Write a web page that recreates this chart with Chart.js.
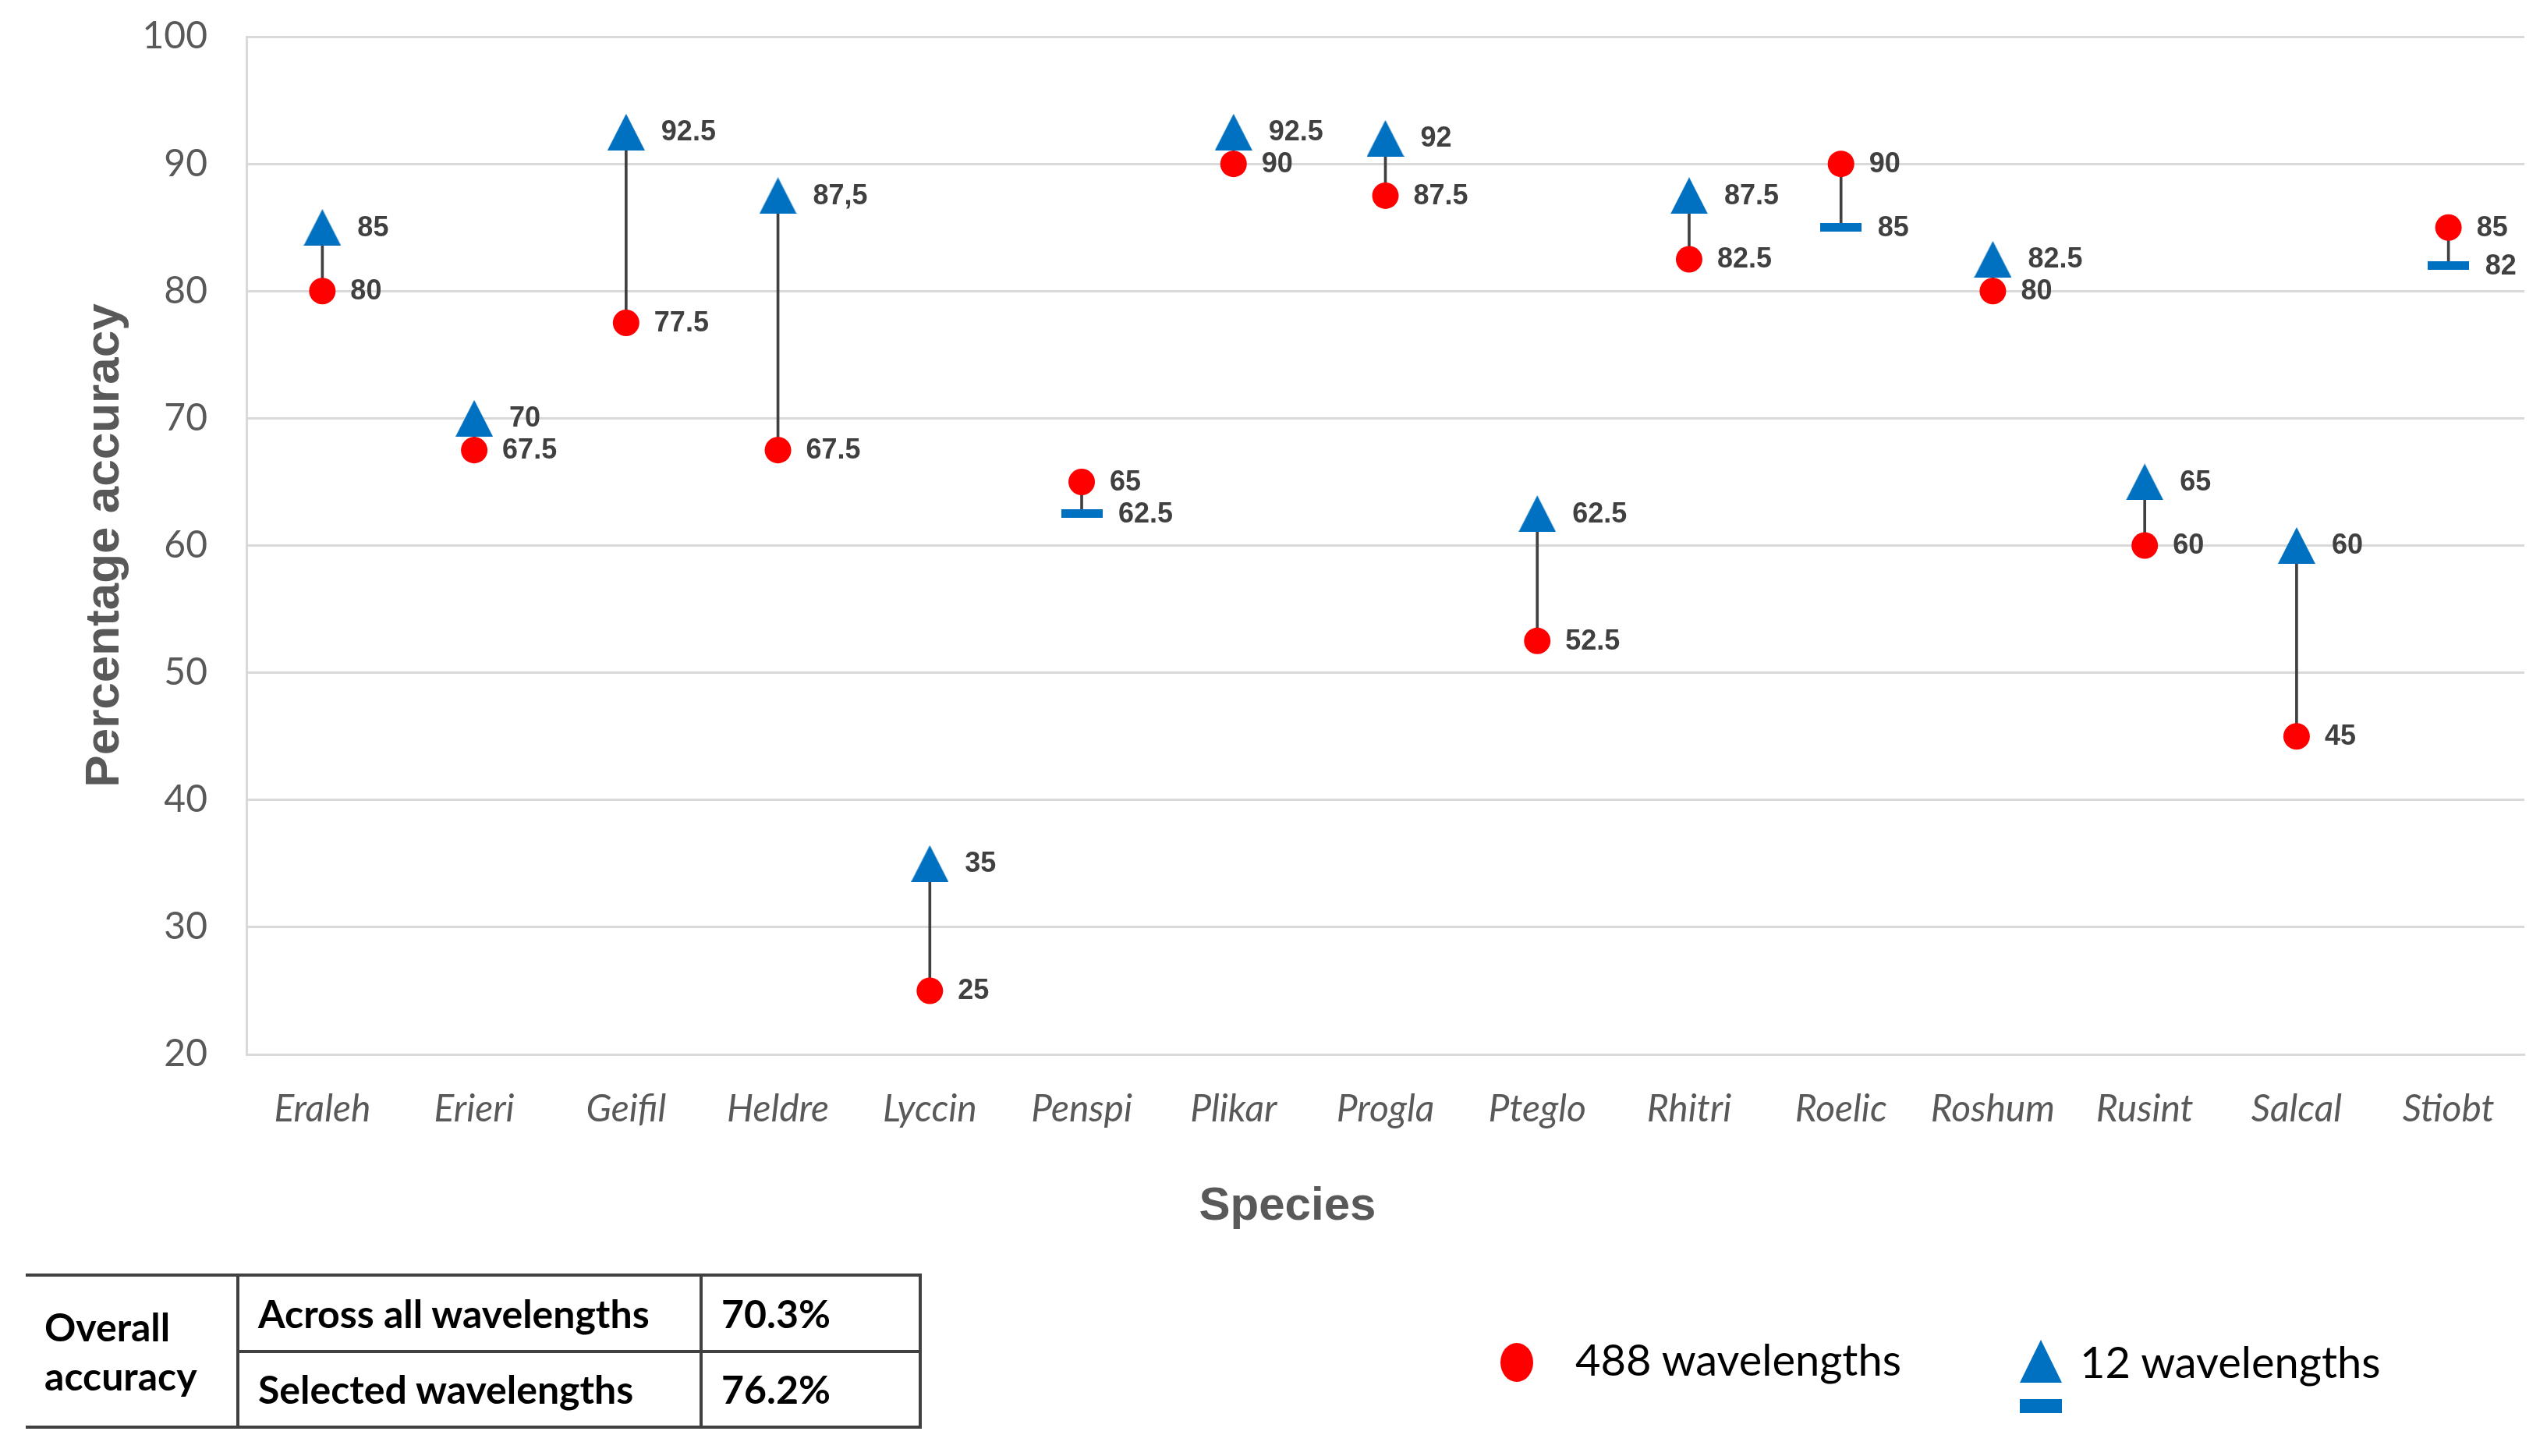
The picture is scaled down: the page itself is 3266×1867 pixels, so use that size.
<!DOCTYPE html>
<html lang="en">
<head>
  <meta charset="UTF-8">
  <title>Percentage accuracy by species</title>
  <script src="https://cdn.jsdelivr.net/npm/chart.js"></script>
  <style>
    html, body { margin: 0; padding: 0; background: #fff; width: 3266px; height: 1867px; overflow: hidden; }
    #wrap { position: absolute; left: 0; top: 0; width: 3266px; height: 1500px; }
    #xTitle { position: absolute; left: 1351px; top: 1514px; width: 600px; text-align: center;
      font: bold 60px/60px "Liberation Sans", Arial, sans-serif; color: #595959; }
    #acc { position: absolute; left: 33px; top: 1633px; width: 1149px; height: 199px;
      border-collapse: collapse; font: bold 50px "Lato", sans-serif; color: #000; }
    #acc td { padding: 0 0 0 24px; vertical-align: middle; border-right: 4px solid #404040; }
    #acc tr:first-child td { border-top: 4px solid #404040; }
    #acc tr:last-child td, #acc td.head { border-bottom: 4px solid #404040; }
    #acc tr:first-child td:not(.head) { border-bottom: 4px solid #404040; }
    #acc td.head { line-height: 63px; width: 246px; }
    #acc td.name { width: 566px; }
    .leg { position: absolute; font: 56px/56px "Lato", sans-serif; color: #000; white-space: nowrap; }
    .dot { position: absolute; left: 1924px; top: 1722px; width: 42px; height: 50px; border-radius: 50%; background: #ff0000; }
    .tri { position: absolute; left: 2590px; top: 1718px; width: 0; height: 0;
      border-left: 27px solid transparent; border-right: 27px solid transparent; border-bottom: 55px solid #0070c0; }
    .dash { position: absolute; left: 2590px; top: 1794px; width: 54px; height: 18px; background: #0070c0; }
  </style>
</head>
<body>
<div id="wrap"><canvas id="chart"></canvas></div>
<div id="xTitle">Species</div>
<table id="acc"></table>
<div class="dot"></div>
<div class="leg" style="left:2020px; top:1715px;">488 wavelengths</div>
<div class="tri"></div>
<div class="dash"></div>
<div class="leg" style="left:2667px; top:1718px;">12 wavelengths</div>

<script>
  const species = ['Eraleh', 'Erieri', 'Geifil', 'Heldre', 'Lyccin', 'Penspi', 'Plikar', 'Progla',
    'Pteglo', 'Rhitri', 'Roelic', 'Roshum', 'Rusint', 'Salcal', 'Stiobt'];
  // 488 wavelengths (red circles)
  const redVals = [80, 67.5, 77.5, 67.5, 25, 65, 90, 87.5, 52.5, 82.5, 90, 80, 60, 45, 85];
  // 12 wavelengths (blue triangle / dash)
  const blueVals = [85, 70, 92.5, 87.5, 35, 62.5, 92.5, 92, 62.5, 87.5, 85, 82.5, 65, 60, 82];
  const yTicks = [20, 30, 40, 50, 60, 70, 80, 90, 100];
  const overallRows = [['Across all wavelengths', '70.3%'], ['Selected wavelengths', '76.2%']];

  const redText = redVals.map(String);
  const blueText = blueVals.map(String);
  blueText[3] = '87,5'; // written with a comma in the original

  // overall accuracy table
  const tbl = document.getElementById('acc');
  overallRows.forEach((r, i) => {
    const tr = document.createElement('tr');
    if (i === 0) {
      const h = document.createElement('td');
      h.className = 'head';
      h.rowSpan = overallRows.length;
      h.innerHTML = 'Overall<br>accuracy';
      tr.appendChild(h);
    }
    const a = document.createElement('td'); a.className = 'name'; a.textContent = r[0];
    const b = document.createElement('td'); b.textContent = r[1];
    tr.appendChild(a); tr.appendChild(b);
    tbl.appendChild(tr);
  });

  function shape(w, h, kind) {
    const c = document.createElement('canvas');
    c.width = w; c.height = h;
    const g = c.getContext('2d');
    g.fillStyle = '#0070c0';
    if (kind === 'tri') {
      g.beginPath(); g.moveTo(w / 2, 0); g.lineTo(w, h); g.lineTo(0, h); g.closePath(); g.fill();
    } else {
      g.fillRect(0, 0, w, h);
    }
    return c;
  }
  const triImg = shape(48, 47, 'tri');
  const dashImg = shape(53, 11, 'dash');

  const valueLabels = {
    id: 'valueLabels',
    afterDatasetsDraw(chart) {
      const ctx = chart.ctx;
      ctx.save();
      ctx.font = 'bold 36px "Liberation Sans", Arial, sans-serif';
      ctx.fillStyle = '#404040';
      ctx.textBaseline = 'middle';
      ctx.textAlign = 'left';
      [[1, redText], [2, blueText]].forEach(([di, texts]) => {
        chart.getDatasetMeta(di).data.forEach((pt, i) => {
          const off = di === 1 ? 36 : (blueVals[i] >= redVals[i] ? 45 : 47);
          ctx.fillText(texts[i], pt.x + off, pt.y + 1);
        });
      });
      ctx.restore();
    }
  };

  new Chart(document.getElementById('chart'), {
    type: 'bar',
    data: {
      labels: species,
      datasets: [
        {
          type: 'bar',
          data: redVals.map((r, i) => [Math.min(r, blueVals[i]), Math.max(r, blueVals[i])]),
          backgroundColor: '#404040',
          barThickness: 3,
          order: 3
        },
        {
          type: 'line',
          label: '488 wavelengths',
          data: redVals,
          showLine: false,
          pointStyle: 'circle',
          pointRadius: 17,
          pointBackgroundColor: '#ff0000',
          pointBorderWidth: 0,
          order: 1
        },
        {
          type: 'line',
          label: '12 wavelengths',
          data: blueVals,
          showLine: false,
          pointStyle: blueVals.map((b, i) => b >= redVals[i] ? triImg : dashImg),
          pointRadius: 24,
          order: 2
        }
      ]
    },
    options: {
      responsive: true,
      maintainAspectRatio: false,
      animation: false,
      layout: { autoPadding: false, padding: { top: 47, right: 29, bottom: 0, left: 0 } },
      plugins: { legend: { display: false }, tooltip: { enabled: false } },
      scales: {
        x: {
          grid: { display: false },
          border: { display: true, color: '#d9d9d9', width: 3 },
          ticks: { padding: 34, color: '#595959', font: { family: 'Lato', size: 48, style: 'italic' } },
          afterFit(s) { s.height = 148; }
        },
        y: {
          min: yTicks[0],
          max: yTicks[yTicks.length - 1],
          afterBuildTicks(s) { s.ticks = yTicks.map(v => ({ value: v })); },
          grid: { color: '#d9d9d9', lineWidth: 3, drawTicks: false },
          border: { display: true, color: '#d9d9d9', width: 3 },
          ticks: { padding: 50, color: '#595959', font: { family: 'Lato', size: 48 } },
          title: {
            display: true,
            text: 'Percentage accuracy',
            color: '#595959',
            font: { family: '"Liberation Sans", Arial, sans-serif', size: 62, weight: 'bold' },
            padding: { top: 98, bottom: 0 }
          },
          afterFit(s) { s.width = 316; s.paddingTop = 0; s.paddingBottom = 0; }
        }
      }
    },
    plugins: [valueLabels]
  });
</script>
</body>
</html>
